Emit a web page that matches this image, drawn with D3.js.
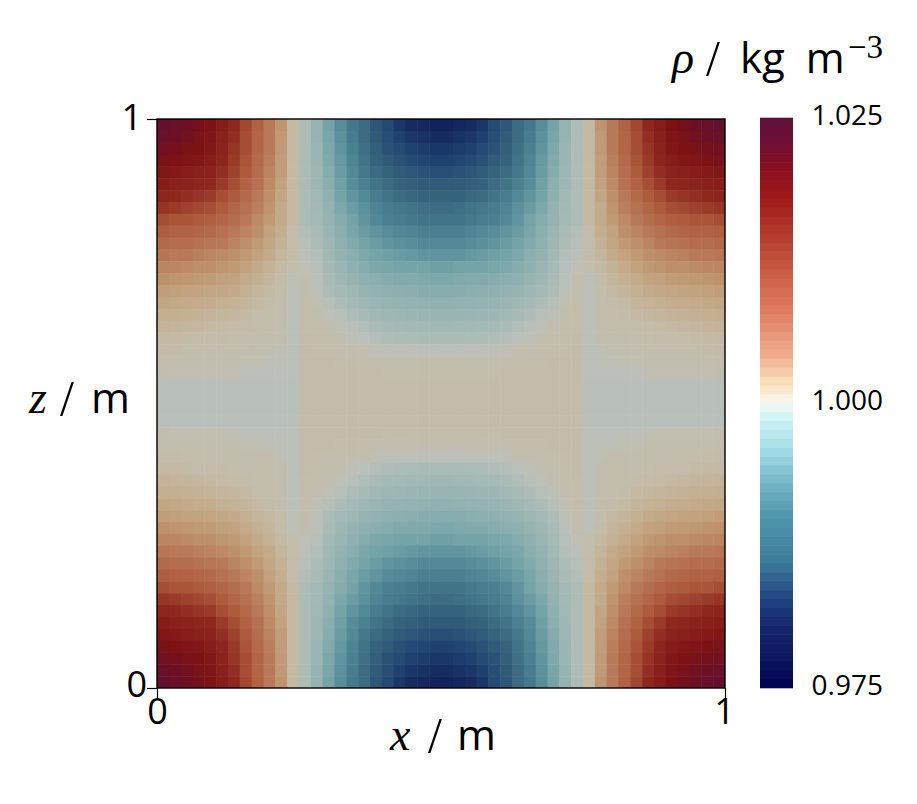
<!DOCTYPE html>
<html>
<head>
<meta charset="utf-8">
<script src="https://cdn.jsdelivr.net/npm/d3@7"></script>
<style>
body { margin:0; background:#fff; }
text { font-family:"Open Sans",sans-serif; fill:#000; }
</style>
</head>
<body>
<svg id="chart" width="917" height="804"></svg>
<script>
// top left quadrant of the field, (rho-1)*1000, 24 rows from z=1 down to z=0.5, 24 columns from x=0 to x=0.5
var FIELD = [
[25,24.5,24,23,22,20,18,15.5,13,10,7.5,3,-3,-6,-10,-13,-15.5,-17,-19.5,-21,-23,-24,-24.5,-25],
[24.5,24,23.5,22.5,21.5,19.5,17.5,15,12.5,10,7,3,-3,-6,-9.5,-12.5,-15,-17,-19,-20.5,-22,-23,-23.5,-24],
[23.5,23,22.5,22,21,19,17,15,12.5,10,7,3,-3,-5.5,-9,-12,-14.5,-16.5,-18.5,-20,-21,-22,-22.5,-23],
[22.5,22,21.5,21,20,18.5,16.5,14.5,12,9.5,6.5,3,-3,-5.5,-8.5,-11.5,-14,-16,-18,-19,-20,-21,-21.5,-22],
[21,20.5,20,19.5,19,17.5,16,14,11.5,9,6.5,3,-3,-5,-8,-11,-13.5,-15.5,-17,-18,-19,-19.5,-20,-20.5],
[20,19.5,19,18.5,18,16.5,15,13,11,8.5,6,3,-3,-5,-7.5,-10.5,-13,-14.5,-16,-17,-18,-18.5,-19,-19],
[18.5,18,17.5,17,16.5,15,14,12,10,8,5.5,3,-3,-4.5,-7,-10,-12,-13.5,-15,-16,-17,-17.5,-18,-18],
[17,16.5,16,15.5,15,14,12.5,11,9.5,7.5,5,3,-3,-4.2,-6.5,-9,-11,-12.5,-14,-15,-15.5,-16,-16.5,-17],
[15,14.5,14.5,14,13.5,12.5,11.5,10,8.5,7,5,3,-3,-4,-6,-8,-10,-12,-13.5,-14.5,-15,-15.5,-16,-16],
[13.5,13,13,12.5,12,11,10,9,8,6,4.5,2.5,-2.5,-3.5,-5.5,-7.5,-9.5,-11,-12,-13,-13.5,-14,-14.5,-14.5],
[12,11.5,11.5,11,10.5,10,9,8,7,5.5,4,2.5,-2,-3,-5,-7,-8.5,-10,-11,-12,-12.5,-13,-13.5,-13.5],
[10.5,10,10,9.5,9,8.5,8,7,6,5,3.5,2,-1.5,-2.5,-4.5,-6.5,-7.5,-9,-10,-10.5,-11,-11.5,-12,-12],
[9,8.8,8.5,8,8,7.5,7,6,5,4,3,1.5,-0.5,-2,-4,-5.5,-7,-8,-9,-9.5,-10,-10,-10,-10.5],
[7.8,7.5,7.3,7,6.8,6.2,6,5,4.3,3.5,2.5,-1,0.5,-1.5,-3.5,-5,-6,-7,-7.5,-8,-8.5,-8.5,-8.8,-9],
[6.5,6.3,6,5.8,5.5,5.2,5,4.2,3.5,3,2,-1,1,-1,-3,-4,-5,-5.8,-6.5,-7,-7.2,-7.5,-7.7,-7.8],
[5.5,5.3,5,4.8,4.6,4.2,4,3.5,3,2.5,1.5,-1.5,1.5,0,-2,-3,-4,-4.8,-5.5,-6,-6.2,-6.5,-6.6,-6.7],
[4.5,4.3,4.2,4,3.8,3.5,3.2,3,2.5,2,1.5,-1.5,2,1,-1,-2,-3,-3.8,-4.5,-5,-5.2,-5.5,-5.6,-5.7],
[3.8,3.6,3.4,3.2,3,2.8,2.6,2.3,2,1.5,1,-1.5,2,1.5,0.5,-1,-1.8,-2.8,-3.5,-4,-4.3,-4.5,-4.6,-4.7],
[3,2.9,2.7,2.5,2.3,2.1,1.9,1.6,1.3,1.1,0.5,-1.5,2.2,1.8,1.2,0.5,-0.8,-1.5,-2.3,-2.8,-3,-3.2,-3.3,-3.3],
[2.2,2.1,2,1.8,1.6,1.4,1.2,1,0.8,0.6,-0.5,-1.5,2.2,2,1.7,1.3,1,0.6,-0.5,-1,-1.2,-1.3,-1.5,-1.5],
[1.3,1.2,1,0.8,0.7,0.6,0.5,0.3,0,-0.7,-1,-1.5,2.3,2.2,2.1,2,1.8,1.5,1.3,1.2,1,0.8,0.8,0.7],
[0.5,0.4,0.3,0.2,0.1,0,-0.5,-1.5,-1.5,-1.5,-1.5,-1.5,2.4,2.4,2.3,2.3,2.2,2.2,2.1,2,2,1.8,1.8,1.8],
[-1.8,-1.8,-1.8,-1.8,-1.8,-1.8,-1.8,-1.8,-1.8,-1.8,-1.8,-1.8,2.5,2.5,2.5,2.5,2.5,2.5,2.5,2.5,2.5,2.5,2.5,2.5],
[-1.8,-1.8,-1.8,-1.8,-1.8,-1.8,-1.8,-1.8,-1.8,-1.8,-1.8,-1.8,2.5,2.5,2.5,2.5,2.5,2.5,2.5,2.5,2.5,2.5,2.5,2.5]
];

// colours as they look in the plot (duller than the colour bar)
var FIELD_STOPS  = [-25,-22,-18,-14,-10,-7,-4,-1.5,0,2.5,4.5,7,10,14,18,22,25];
var FIELD_COLORS = ['#12225a','#1f4170','#36637c','#4e8494','#74a4a8','#8fb0b0','#a5bab6','#bcc0ba','#c0bfb2','#c4bcaa','#c4ae8f','#c09a74','#b8795a','#ae5a3c','#8e281f','#7d1215','#650f2e'];

// colour bar, position 0..1 from bottom to top
var BAR_STOPS  = [0,0.05,0.1,0.15,0.22,0.3,0.36,0.42,0.48,0.5,0.51,0.54,0.58,0.665,0.733,0.856,0.909,0.96,1];
var BAR_COLORS = ['#00004f','#0c1560','#14246a','#1f3f80','#3d7c9b','#4f95ab','#75b5c5','#a5dde8','#d5f5f5','#f3f8f6','#faf2e0','#f8dcb8','#f0b090','#e07a60','#c85a42','#a01c1a','#8b0f20','#6e0f35','#5f1039'];
var BAR_STEPS = 64;
var BAR_TICKS = [0.975,1.000,1.025];
var AXIS_TICKS = [0,1];

var svg = d3.select('#chart');

// right half and bottom half are mirrored from the quadrant
var rows = FIELD.map(function(r){ return r.concat(r.slice().reverse()); });
rows = rows.concat(rows.slice().reverse());

var n = rows.length;
var xBand = d3.scaleBand().domain(d3.range(n)).range([157,725]);
var yBand = d3.scaleBand().domain(d3.range(n)).range([119,688]);
var fieldColor = d3.scaleLinear().domain(FIELD_STOPS).range(FIELD_COLORS);

var cells = [];
rows.forEach(function(r,j){ r.forEach(function(v,i){ cells.push({i:i,j:j,v:v}); }); });

svg.append('g').selectAll('rect').data(cells).enter().append('rect')
	.attr('x',function(d){ return xBand(d.i); })
	.attr('y',function(d){ return yBand(d.j); })
	.attr('width',function(d){ return xBand.bandwidth()+(d.i<n-1?0.5:0); })
	.attr('height',function(d){ return yBand.bandwidth()+(d.j<n-1?0.5:0); })
	.attr('fill',function(d){ return fieldColor(d.v); });

var x = d3.scaleLinear().domain([0,1]).range([157,725]);
var z = d3.scaleLinear().domain([0,1]).range([688,119]);

svg.append('rect').attr('x',157).attr('y',119).attr('width',568).attr('height',569)
	.attr('fill','none').attr('stroke','#000').attr('stroke-width',1.4);

var xAxis = svg.append('g').attr('transform','translate(0,688)')
	.call(d3.axisBottom(x).tickValues(AXIS_TICKS).tickFormat(d3.format('d')).tickSize(10));
var zAxis = svg.append('g').attr('transform','translate(157,0)')
	.call(d3.axisLeft(z).tickValues(AXIS_TICKS).tickFormat(d3.format('d')).tickSize(10));
[xAxis,zAxis].forEach(function(a){
	a.select('.domain').remove();
	a.selectAll('line').attr('stroke','#000').attr('stroke-width',1.2);
	a.selectAll('text').style('font-family','"Open Sans",sans-serif').style('font-size','36px').attr('fill','#000');
});
xAxis.selectAll('text').attr('y',36).attr('dy',0);
xAxis.selectAll('text').filter(function(d){ return d==1; }).attr('dx',-1);
zAxis.selectAll('text').attr('x',-10).attr('dy',0).attr('y',function(d){ return d==1?10:8; });
zAxis.selectAll('text').filter(function(d){ return d==1; }).attr('dx',-5);

// colour bar
var barColor = d3.scaleLinear().domain(BAR_STOPS).range(BAR_COLORS);
var barBand = d3.scaleBand().domain(d3.range(BAR_STEPS)).range([688,118]);
svg.append('g').selectAll('rect').data(d3.range(BAR_STEPS)).enter().append('rect')
	.attr('x',760).attr('width',33)
	.attr('y',function(d){ return barBand(d)-0.3; })
	.attr('height',barBand.bandwidth()+0.6)
	.attr('fill',function(d){ return barColor((d+0.5)/BAR_STEPS); });

var barScale = d3.scaleLinear().domain([0.975,1.025]).range([685,115]);
svg.append('g').selectAll('text').data(BAR_TICKS).enter().append('text')
	.attr('x',883).attr('y',function(d){ return barScale(d); }).attr('dy','0.36em')
	.attr('text-anchor','end').style('font-size','28px')
	.text(d3.format('.3f'));

function piece(px,py,str,size,family,italic){
	return svg.append('text').attr('x',px).attr('y',py).text(str)
		.style('font-size',size+'px')
		.style('font-family',family||'"Open Sans",sans-serif')
		.style('font-style',italic?'italic':'normal');
}
var SERIF = '"Liberation Serif",serif';

piece(390,750,'x',46,SERIF,true);
piece(428,752,'/',50,SERIF);
piece(457,750,'m',42);

piece(29,413,'z',46,SERIF,true);
piece(60,415,'/',50,SERIF);
piece(91,413,'m',42);

piece(672,73,'ρ',46,SERIF,true);
piece(706,75,'/',50,SERIF);
piece(740,73,'kg m',42).style('word-spacing','10px');
piece(848,58,'−3',33,SERIF);
</script>
</body>
</html>
